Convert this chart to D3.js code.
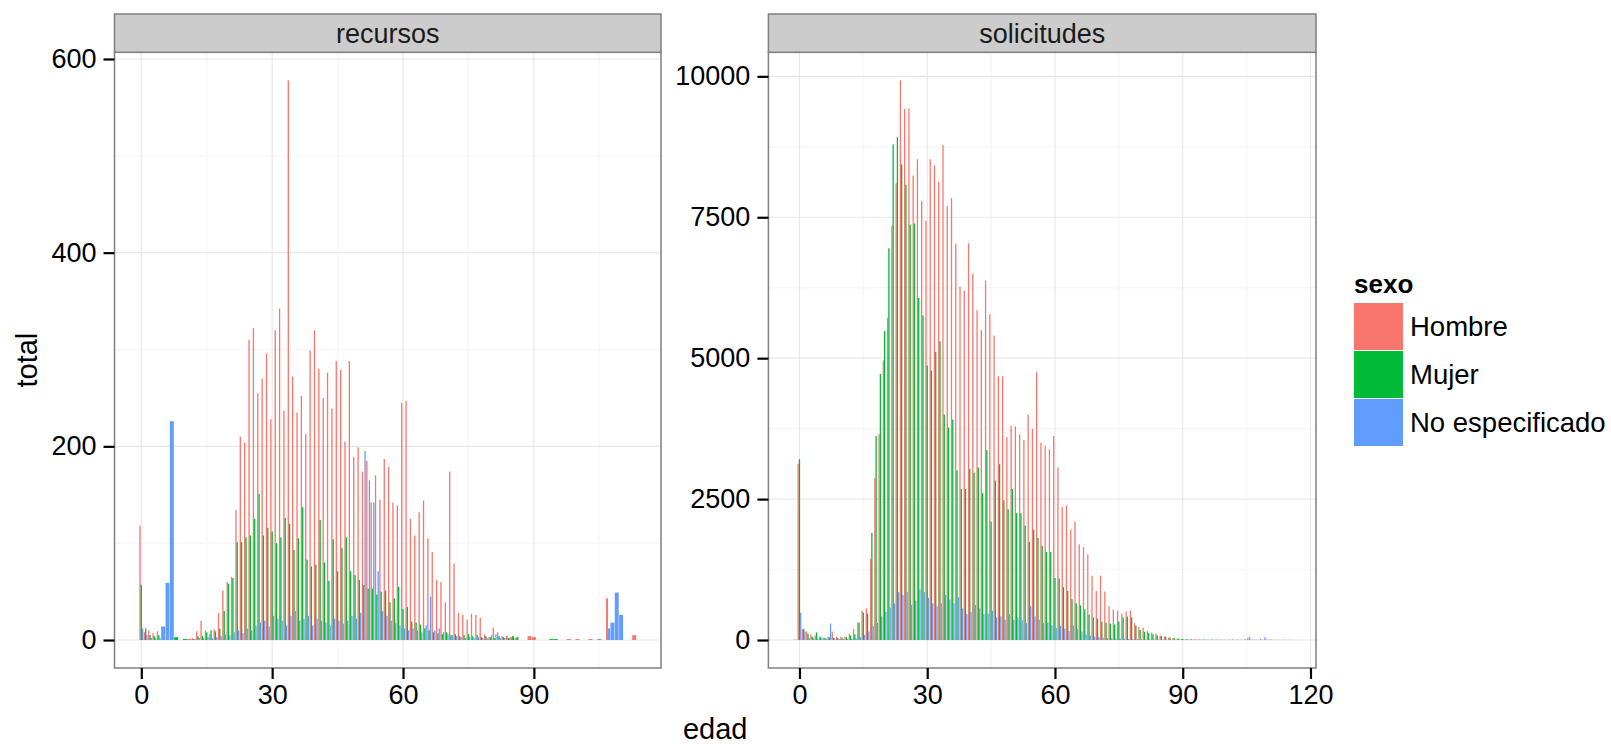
<!DOCTYPE html>
<html>
<head>
<meta charset="utf-8">
<script src="https://cdn.jsdelivr.net/npm/d3@7"></script>
<style>
  body { margin: 0; background: #ffffff; }
  text { font-family: "Liberation Sans", Arial, Helvetica, sans-serif; }
</style>
</head>
<body>
<div id="chart"></div>
<script>

// 1. Data (null = no row for that age / sex)

const sexos = ["Hombre", "Mujer", "No especificado"];
const colores = ["#F8766D", "#00BA38", "#619CFF"];

// recursos, edad 0..113
const recursosEdadMin = 0;
const recursosHombre = [
  118, 8, 10, 7, 9, null, null, null, null, null,
  null, 1, 2, 9, 20, 10, 6, 11, 28, 51,
  60, 65, 134, 210, 204, 310, 322, 255, 270, 296,
  228, 320, 342, 237, 578, 272, 235, 252, 213, 299,
  320, 280, 250, 276, 239, 288, 279, 205, 288, 189,
  199, 174, 185, 142, 170, 145, 187, 179, 142, 139,
  245, 247, 125, 108, 132, 144, 105, 91, 62, 60,
  39, 174, 79, 28, 26, 21, 27, 26, 23, 6,
  3, 13, 8, 4, 4, 3, 2, null, null, 4,
  3, null, null, null, null, null, null, null, 1, null,
  1, null, null, 1, null, null, null, 43, null, null,
  null, null, null, 5
];
const recursosMujer = [
  57, 12, 5, 4, 5, null, null, null, 3, null,
  1, null, 1, 4, 4, 8, 10, 9, 12, 30,
  58, 64, 101, 101, 106, 108, 125, 151, 108, 116,
  112, 100, 106, 126, 120, 93, 105, 137, 83, 76,
  78, 124, 80, 61, 104, 71, 95, 106, 71, 67,
  62, 57, 53, 53, 47, 50, 51, 39, 43, 55,
  32, 34, 19, 18, 16, 12, 10, 8, 7, 6,
  8, 5, 6, 4, 5, 6, 4, 5, 3, 4,
  3, 2, 4, 3, 2, 4, 3, null, null, null,
  null, null, null, null, 1, 1, null, null, null, null,
  null, null, null, null, null, null, null, null, null, null,
  null, null, null, null
];
const recursosNoEsp = [
  12, 5, 2, 2, 2, 14, 59, 226, null, null,
  null, null, 1, 2, 2, 3, 2, 3, 4, 6,
  5, 8, 10, 7, 12, 10, 15, 18, 20, 14,
  25, 22, 20, 15, 25, 30, 20, 22, 25, 15,
  22, 20, 18, 15, 22, 20, 17, 20, 25, 22,
  28, 195, 165, 142, 71, 30, 25, 20, 18, 15,
  12, 10, 12, 10, 8, 15, 45, 10, 12, 8,
  6, 5, 4, 3, 2, 3, 2, 3, 2, 2,
  5, 6, 2, 2, null, null, null, null, null, null,
  null, null, null, null, null, null, null, null, null, null,
  null, null, null, null, null, 1, null, 12, 18, 49,
  26, null, null, null
];

// solicitudes, edad -1..115
const solicitudesEdadMin = -1;
const solicitudesHombre = [
  5,
  3130, 190, 150, 100, 80, 60, 40, 60, 150, 60,
  50, 60, 110, 200, 320, 520, 560, 1440, 2870, 3650,
  4960, 5720, 7350, 8100, 9930, 9420, 9430, 8240, 8530, 7790,
  7440, 8530, 8420, 8130, 8780, 7700, 7840, 7030, 6270, 6200,
  7040, 6500, 5850, 5500, 6380, 5780, 5400, 4680, 4680, 3600,
  3800, 3790, 3650, 3550, 4000, 3750, 4750, 3500, 3450, 3380,
  3620, 3060, 2360, 2390, 1960, 2100, 1700, 1650, 1520, 1140,
  870, 1140, 860, 600, 540, 520, 470, 510, 520, 300,
  230, 220, 160, 130, 115, 80, 60, 45, 35, 25,
  20, 15, 12, 10, 10, 8, 8, 10, 6, 8,
  6, 5, 10, 8, 6, 15, 60, 6, 5, 4,
  12, 10, 5, 4, 6, 3
];
const solicitudesMujer = [
  null,
  3210, 200, 110, 60, 134, 50, 40, 50, 40, 40,
  40, 50, 80, 100, 300, 485, 470, 1900, 3620, 4720,
  5480, 6950, 8790, 8920, 8440, 8080, 7370, 7390, 6070, 5760,
  4870, 4780, 5110, 5300, 4000, 3770, 3910, 3010, 2680, 2680,
  3040, 2970, 3060, 2610, 3370, 2100, 2830, 3120, 2480, 2320,
  2680, 2250, 2250, 2030, 1740, 1960, 1810, 1670, 1560, 1560,
  1100, 1090, 940, 870, 725, 650, 615, 545, 450, 400,
  380, 325, 305, 290, 275, 325, 400, 415, 400, 255,
  180, 145, 125, 100, 85, 70, 60, 45, 35, 25,
  20, 15, 12, 10, 8, 8, 6, 5, 6, 4,
  5, 4, 3, 4, 3, 2, 3, 2, 2, 2,
  1, 2, 1, 1, 1, null
];
const solicitudesNoEsp = [
  null,
  485, 150, 40, 30, 25, 30, 20, 290, 25, 20,
  20, 20, 25, 30, 50, 90, 150, 250, 300, 420,
  500, 580, 650, 850, 800, 850, 620, 700, 900, 850,
  750, 650, 600, 650, 800, 720, 650, 760, 560, 460,
  500, 620, 560, 460, 470, 520, 400, 420, 360, 460,
  360, 400, 350, 300, 600, 420, 360, 300, 310, 260,
  210, 250, 200, 160, 260, 200, 150, 100, 80, 60,
  50, 40, 35, 30, 25, 25, 20, 20, 15, 15,
  12, 10, 8, 8, 8, 6, 6, 5, 5, 4,
  4, 4, 3, 3, 3, 3, 2, 3, 2, 3,
  2, 3, 2, 3, 4, 40, 8, 5, 20, 50,
  6, 4, 3, 2, 2, null
];

const recursosYTicks = [0, 200, 400, 600];
const solicitudesYTicks = [0, 2500, 5000, 7500, 10000];
const recursosXTicks = [0, 30, 60, 90];
const solicitudesXTicks = [0, 30, 60, 90, 120];

// 2. Dimensions

const dimensions = {
  width: 1611,
  height: 744,
  panelTop: 52.3,
  panelBottom: 668,
  stripTop: 14,
  tickLength: 11,
}

const facets = [
  {
    name: "recursos", left: 114.5, right: 661,
    edadMin: recursosEdadMin,
    series: [recursosHombre, recursosMujer, recursosNoEsp],
    xTicks: recursosXTicks, yTicks: recursosYTicks,
  },
  {
    name: "solicitudes", left: 768.4, right: 1316,
    edadMin: solicitudesEdadMin,
    series: [solicitudesHombre, solicitudesMujer, solicitudesNoEsp],
    xTicks: solicitudesXTicks, yTicks: solicitudesYTicks,
  },
]

// 3. Canvas

const svg = d3.select("#chart")
  .append("svg")
    .attr("width", dimensions.width)
    .attr("height", dimensions.height)

svg.append("rect")
  .attr("width", dimensions.width)
  .attr("height", dimensions.height)
  .attr("fill", "#ffffff")

const barWidth = 0.9

facets.forEach(f => {

  // rows like ggplot: one per edad / sexo that exists
  const rows = []
  f.series.forEach((values, k) => {
    values.forEach((v, i) => {
      if (v !== null) rows.push({ edad: f.edadMin + i, sexo: k, total: v })
    })
  })

  // position = "dodge": split 0.9 between the sexes present at each edad
  const byEdad = d3.group(rows, d => d.edad)
  byEdad.forEach(group => {
    group.sort((a, b) => a.sexo - b.sexo)
    const w = barWidth / group.length
    group.forEach((d, j) => {
      d.x0 = d.edad - barWidth / 2 + j * w
      d.x1 = d.x0 + w
    })
  })

  // 4. Scales (5% expansion like ggplot)
  const lo = d3.min(rows, d => d.x0)
  const hi = d3.max(rows, d => d.x1)
  const xPad = (hi - lo) * 0.05
  const xScale = d3.scaleLinear()
    .domain([lo - xPad, hi + xPad])
    .range([f.left, f.right])

  const yMax = d3.max(rows, d => d.total)
  const yScale = d3.scaleLinear()
    .domain([-yMax * 0.05, yMax * 1.05])
    .range([dimensions.panelBottom, dimensions.panelTop])

  const panel = svg.append("g")

  // 5. Peripherals: grid
  const xMinor = d3.range(f.xTicks.length).map(i => f.xTicks[i] + 15)
    .filter(v => v < xScale.domain()[1])
  const yStep = f.yTicks[1] - f.yTicks[0]
  const yMinor = f.yTicks.map(v => v + yStep / 2)
    .filter(v => v < yScale.domain()[1])

  panel.append("g").selectAll("line")
    .data(xMinor)
    .join("line")
      .attr("x1", d => xScale(d)).attr("x2", d => xScale(d))
      .attr("y1", dimensions.panelTop).attr("y2", dimensions.panelBottom)
      .attr("stroke", "#f7f7f7").attr("stroke-width", 1.6)
  panel.append("g").selectAll("line")
    .data(yMinor)
    .join("line")
      .attr("x1", f.left).attr("x2", f.right)
      .attr("y1", d => yScale(d)).attr("y2", d => yScale(d))
      .attr("stroke", "#f7f7f7").attr("stroke-width", 1.6)
  panel.append("g").selectAll("line")
    .data(f.xTicks)
    .join("line")
      .attr("x1", d => xScale(d)).attr("x2", d => xScale(d))
      .attr("y1", dimensions.panelTop).attr("y2", dimensions.panelBottom)
      .attr("stroke", "#e8e8e8").attr("stroke-width", 1.2)
  panel.append("g").selectAll("line")
    .data(f.yTicks)
    .join("line")
      .attr("x1", f.left).attr("x2", f.right)
      .attr("y1", d => yScale(d)).attr("y2", d => yScale(d))
      .attr("stroke", "#e8e8e8").attr("stroke-width", 1.2)

  // Draw bars
  panel.append("g").selectAll("rect")
    .data(rows)
    .join("rect")
      .attr("x", d => xScale(d.x0))
      .attr("width", d => xScale(d.x1) - xScale(d.x0))
      .attr("y", d => yScale(d.total))
      .attr("height", d => yScale(0) - yScale(d.total))
      .attr("fill", d => colores[d.sexo])

  // panel border
  panel.append("rect")
    .attr("x", f.left)
    .attr("y", dimensions.panelTop)
    .attr("width", f.right - f.left)
    .attr("height", dimensions.panelBottom - dimensions.panelTop)
    .attr("fill", "none")
    .attr("stroke", "#7f7f7f")
    .attr("stroke-width", 1.5)

  // strip
  panel.append("rect")
    .attr("x", f.left)
    .attr("y", dimensions.stripTop)
    .attr("width", f.right - f.left)
    .attr("height", dimensions.panelTop - dimensions.stripTop)
    .attr("fill", "#cccccc")
    .attr("stroke", "#7f7f7f")
    .attr("stroke-width", 1.5)
  panel.append("text")
    .attr("x", (f.left + f.right) / 2)
    .attr("y", (dimensions.stripTop + dimensions.panelTop) / 2 + 9.5)
    .attr("text-anchor", "middle")
    .attr("font-size", 27)
    .attr("fill", "#1a1a1a")
    .text(f.name)

  // axes
  const xAxis = panel.append("g")
    .attr("transform", `translate(0, ${dimensions.panelBottom})`)
    .call(d3.axisBottom(xScale).tickValues(f.xTicks)
      .tickSize(dimensions.tickLength).tickPadding(6).tickFormat(d3.format("d")))
  const yAxis = panel.append("g")
    .attr("transform", `translate(${f.left}, 0)`)
    .call(d3.axisLeft(yScale).tickValues(f.yTicks)
      .tickSize(dimensions.tickLength).tickPadding(7).tickFormat(d3.format("d")))

  ;[xAxis, yAxis].forEach(ax => {
    ax.select(".domain").remove()
    ax.selectAll(".tick line").attr("stroke", "#000").attr("stroke-width", 2.2)
    ax.selectAll(".tick text")
      .attr("font-size", 27)
      .attr("font-family", "Liberation Sans, Arial, sans-serif")
      .attr("fill", "#000")
  })
})

// axis titles
svg.append("text")
  .attr("transform", `translate(37, ${(dimensions.panelTop + dimensions.panelBottom) / 2}) rotate(-90)`)
  .attr("text-anchor", "middle")
  .attr("font-size", 29)
  .text("total")

svg.append("text")
  .attr("x", (facets[0].left + facets[1].right) / 2)
  .attr("y", 739)
  .attr("text-anchor", "middle")
  .attr("font-size", 29)
  .text("edad")

// 6. Legend
const legend = svg.append("g")
  .attr("transform", "translate(1354, 0)")

legend.append("text")
  .attr("x", 0)
  .attr("y", 293)
  .attr("font-size", 26)
  .attr("font-weight", "bold")
  .text("sexo")

const keys = legend.selectAll("g.key")
  .data(sexos)
  .join("g")
    .attr("class", "key")
    .attr("transform", (d, i) => `translate(0, ${303 + i * 48})`)

keys.append("rect")
  .attr("width", 49)
  .attr("height", 47)
  .attr("fill", (d, i) => colores[i])

keys.append("text")
  .attr("x", 56)
  .attr("y", 33)
  .attr("font-size", 27.5)
  .text(d => d)

</script>
</body>
</html>
